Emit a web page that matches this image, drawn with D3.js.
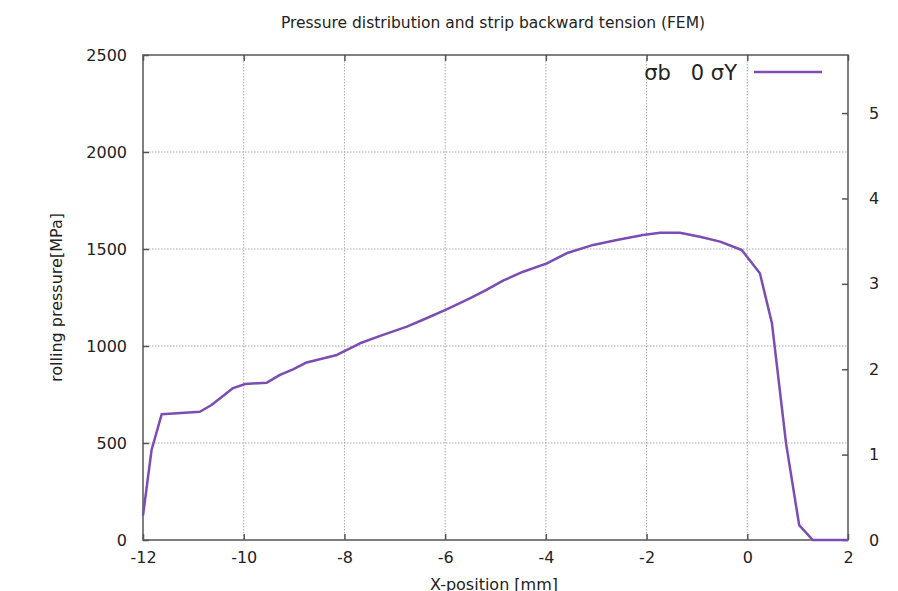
<!DOCTYPE html>
<html>
<head>
<meta charset="utf-8">
<script src="https://cdn.jsdelivr.net/npm/d3@7"></script>
<style>
  body { margin: 0; background: #fff; }
  svg { display: block; font-family: "DejaVu Sans", sans-serif; }
</style>
</head>
<body>
<svg id="chart" width="898" height="591"></svg>
<script>
// values
const xPos = [-12, -11.83, -11.63, -10.87, -10.64, -10.21, -9.97, -9.54, -9.28, -9.02,
  -8.75, -8.15, -7.69, -7.29, -6.76, -6.37, -5.97, -5.51, -5.18, -4.85, -4.45, -3.98,
  -3.59, -3.06, -2.59, -2.07, -1.73, -1.34, -0.94, -0.54, -0.11, 0.25, 0.49, 0.77,
  1.03, 1.30, 2];
const pressure = [126, 464, 648, 661, 696, 783, 804, 811, 851, 880,
  915, 954, 1014, 1052, 1100, 1143, 1189, 1245, 1289, 1337, 1383, 1426,
  1478, 1521, 1546, 1572, 1584, 1584, 1563, 1538, 1495, 1375, 1117, 498,
  77, 0, 0];
const xTicks = [-12, -10, -8, -6, -4, -2, 0, 2];
const yTicks = [0, 500, 1000, 1500, 2000, 2500];
const y2Ticks = [0, 1, 2, 3, 4, 5];
const legendLabel = "σb   0 σY";

const svg = d3.select("#chart");
const margin = { top: 55, right: 50, bottom: 51, left: 143 };
const width = +svg.attr("width");
const height = +svg.attr("height");
const x1 = margin.left, x2 = width - margin.right;
const y1 = margin.top, y2 = height - margin.bottom;
const lineColor = "#7b4db3";
const borderColor = "#555";
const fmt = (d) => String(d); // plain hyphen minus, like gnuplot

const xScale = d3.scaleLinear().domain([-12, 2]).range([x1, x2]);
const yScale = d3.scaleLinear().domain([0, 2500]).range([y2, y1]);
const y2Scale = d3.scaleLinear().domain([0, 5.68]).range([y2, y1]);

// grid
const grid = svg.append("g").attr("stroke", "#aaa").attr("stroke-width", 1)
  .attr("stroke-dasharray", "1.5,1.5");
grid.selectAll(".gx").data(xTicks.slice(1, -1)).enter().append("line")
  .attr("x1", (d) => xScale(d)).attr("x2", (d) => xScale(d))
  .attr("y1", y1).attr("y2", y2);
grid.selectAll(".gy").data(yTicks.slice(1, -1)).enter().append("line")
  .attr("x1", x1).attr("x2", x2)
  .attr("y1", (d) => yScale(d)).attr("y2", (d) => yScale(d));

// axes (ticks point inward like gnuplot)
function styleAxis(g) {
  g.attr("font-family", null);
  g.select(".domain").remove();
  g.selectAll(".tick line").attr("stroke", borderColor).attr("stroke-width", 1.5);
  g.selectAll(".tick text").attr("fill", "#222").style("font-size", "16px");
}

svg.append("g")
  .attr("transform", "translate(0," + y2 + ")")
  .call(d3.axisBottom(xScale).tickValues(xTicks).tickFormat(fmt).tickSizeInner(-6).tickPadding(12))
  .call(styleAxis);

svg.append("g")
  .attr("transform", "translate(0," + y1 + ")")
  .call(d3.axisTop(xScale).tickValues(xTicks).tickSizeInner(-6).tickFormat(""))
  .call(styleAxis);

svg.append("g")
  .attr("transform", "translate(" + x1 + ",0)")
  .call(d3.axisLeft(yScale).tickValues(yTicks).tickFormat(fmt).tickSizeInner(-6).tickPadding(16))
  .call(styleAxis);

svg.append("g")
  .attr("transform", "translate(" + x2 + ",0)")
  .call(d3.axisRight(y2Scale).tickValues(y2Ticks).tickFormat(fmt).tickSizeInner(-6).tickPadding(21))
  .call(styleAxis);

// border
svg.append("rect")
  .attr("x", x1).attr("y", y1)
  .attr("width", x2 - x1).attr("height", y2 - y1)
  .attr("fill", "none").attr("stroke", borderColor).attr("stroke-width", 1.5);

// curve
const pts = xPos.map((d, i) => [d, pressure[i]]);
const line = d3.line().x((d) => xScale(d[0])).y((d) => yScale(d[1]));
svg.append("path")
  .datum(pts)
  .attr("d", line)
  .attr("fill", "none")
  .attr("stroke", lineColor)
  .attr("stroke-width", 2.5)
  .attr("stroke-linejoin", "round");

// legend
svg.append("text")
  .attr("x", 737).attr("y", 80)
  .attr("text-anchor", "end")
  .style("font-size", "21px")
  .style("white-space", "pre")
  .attr("fill", "#222")
  .text(legendLabel);
svg.append("line")
  .attr("x1", 754).attr("x2", 822)
  .attr("y1", 72).attr("y2", 72)
  .attr("stroke", lineColor).attr("stroke-width", 2.5);

// titles
svg.append("text")
  .attr("x", 493).attr("y", 28)
  .attr("text-anchor", "middle")
  .style("font-size", "15.5px")
  .attr("fill", "#222")
  .text("Pressure distribution and strip backward tension (FEM)");

svg.append("text")
  .attr("x", 494).attr("y", 590)
  .attr("text-anchor", "middle")
  .style("font-size", "16px")
  .attr("fill", "#222")
  .text("X-position [mm]");

svg.append("text")
  .attr("transform", "translate(62," + (y1 + y2) / 2 + ") rotate(-90)")
  .attr("text-anchor", "middle")
  .style("font-size", "16px")
  .attr("fill", "#222")
  .text("rolling pressure[MPa]");
</script>
</body>
</html>
